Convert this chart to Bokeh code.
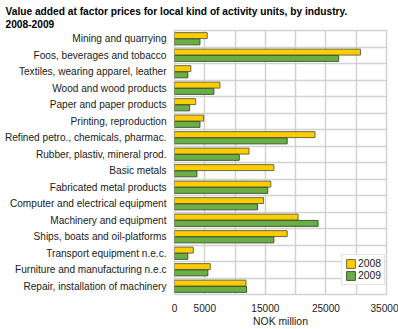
from bokeh.plotting import figure
from bokeh.models import Range1d, FixedTicker, ColumnDataSource, Legend, LegendItem
from bokeh.embed import file_html
from bokeh.resources import INLINE

categories = [
    "Mining and quarrying",
    "Foos, beverages and tobacco",
    "Textiles, wearing apparel, leather",
    "Wood and wood products",
    "Paper and paper products",
    "Printing, reproduction",
    "Refined petro., chemicals, pharmac.",
    "Rubber, plastiv, mineral prod.",
    "Basic metals",
    "Fabricated metal products",
    "Computer and electrical equipment",
    "Machinery and equipment",
    "Ships, boats and oil-platforms",
    "Transport equipment n.e.c.",
    "Furniture and manufacturing n.e.c",
    "Repair, installation of machinery",
]
v2008 = [5400, 30700, 2700, 7500, 3500, 4800, 23200, 12300, 16400, 15900, 14700, 20400, 18600, 3100, 5900, 11800]
v2009 = [4200, 27100, 2200, 6500, 2500, 4200, 18600, 10700, 3700, 15400, 13700, 23700, 16400, 2200, 5500, 11900]
x_ticks = [0, 5000, 15000, 25000, 35000]
x_grid = [0, 5000, 10000, 15000, 20000, 25000, 30000, 35000]
x_label = "NOK million"
title_text = "Value added at factor prices for local kind of activity units, by industry.\n2008-2009"

n = len(categories)
pos = [n - i - 0.5 for i in range(n)]
src = ColumnDataSource(dict(
    y08=[p + 0.19 for p in pos],
    y09=[p - 0.19 for p in pos],
    v08=v2008, v09=v2009,
))

p = figure(output_backend="svg", toolbar_location=None,
           width=398, height=329,
           x_range=Range1d(0, 35000), y_range=Range1d(0, n),
           min_border_left=174, min_border_right=12, min_border_top=30, min_border_bottom=30)

p.title.text = title_text
p.title.text_font = "Liberation Sans"
p.title.text_font_size = "10.2px"
p.title.text_font_style = "bold"
p.title.text_color = "#000000"
p.title.align = "left"
p.title.offset = -169
p.title.standoff = 1
p.title.text_line_height = 1.15

bar_2008 = p.hbar(y="y08", right="v08", left=0, height=0.36, source=src,
                  fill_color="#FFCC00", line_color="#6b6b3a", line_width=1)
bar_2009 = p.hbar(y="y09", right="v09", left=0, height=0.36, source=src,
                  fill_color="#6AAE45", line_color="#3f5a30", line_width=1)

p.yaxis.ticker = FixedTicker(ticks=pos)
p.yaxis.major_label_overrides = {pp: c for pp, c in zip(pos, categories)}
p.ygrid.ticker = FixedTicker(ticks=list(range(n + 1)))
p.xaxis.ticker = FixedTicker(ticks=x_ticks)
p.xgrid.ticker = FixedTicker(ticks=x_grid)
p.xaxis.axis_label = x_label

for ax in (p.xaxis, p.yaxis):
    ax.axis_line_color = None
    ax.major_tick_line_color = None
    ax.minor_tick_line_color = None
    ax.major_label_text_font = "Liberation Sans"
    ax.major_label_text_font_size = "10.1px"
    ax.major_label_text_color = "#1a1a1a"
    ax.major_label_standoff = 2
p.xaxis.major_label_standoff = 3
p.xaxis.axis_label_text_font = "Liberation Sans"
p.xaxis.axis_label_text_font_size = "10.4px"
p.xaxis.axis_label_text_font_style = "normal"
p.xaxis.axis_label_text_color = "#1a1a1a"
p.xaxis.axis_label_standoff = 1

for g in (p.xgrid, p.ygrid):
    g.grid_line_color = "#d2d2d2"
    g.grid_line_width = 1.5
p.outline_line_color = "#d2d2d2"
p.outline_line_width = 1.5

legend = Legend(items=[LegendItem(label="2008", renderers=[bar_2008]),
                       LegendItem(label="2009", renderers=[bar_2009])],
                location=(167, 9))
legend.label_text_font = "Liberation Sans"
legend.label_text_font_size = "10.4px"
legend.label_text_color = "#1a1a1a"
legend.glyph_width = 11
legend.glyph_height = 11
legend.label_standoff = 2
legend.spacing = 1
legend.padding = 3
legend.margin = 0
legend.label_height = 11
legend.border_line_color = "#cccccc"
legend.background_fill_alpha = 1
p.add_layout(legend, "center")

open("out.html", "w").write(file_html(p, INLINE))
